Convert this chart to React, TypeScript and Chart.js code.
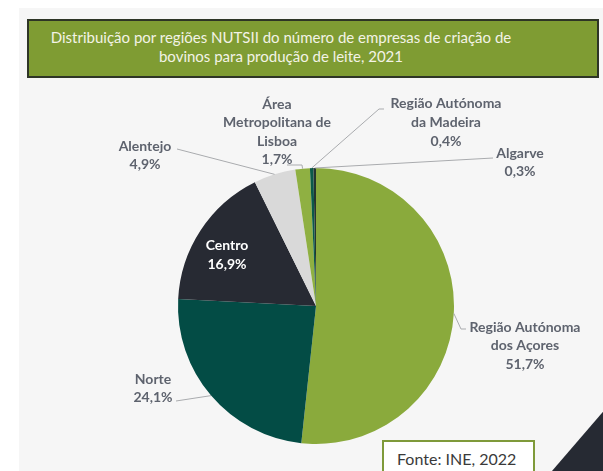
import React, { useEffect, useRef } from "react";
import { Chart, registerables } from "chart.js";

Chart.register(...registerables);

const categories = [
  "Região Autónoma dos Açores",
  "Norte",
  "Centro",
  "Alentejo",
  "Área Metropolitana de Lisboa",
  "Região Autónoma da Madeira",
  "Algarve",
];
const values = [51.7, 24.1, 16.9, 4.9, 1.7, 0.4, 0.3];
const labelLines = [
  ["Região Autónoma", "dos Açores"],
  ["Norte"],
  ["Centro"],
  ["Alentejo"],
  ["Área", "Metropolitana de", "Lisboa"],
  ["Região Autónoma", "da Madeira"],
  ["Algarve"],
];
const titleLines = [
  "Distribuição por regiões NUTSII do número de empresas de criação de",
  "bovinos para produção de leite, 2021",
];
const sourceText = "Fonte: INE, 2022";

const sliceColors = ["#8aaa3c", "#034c45", "#272a33", "#d9d9d9", "#8fb042", "#0b5a49", "#243530"];

const FONT = "Lato, 'Open Sans', sans-serif";
const GRAY = "#5e636e";

// label placement (pixels) and leader-line bends
const labelLayout: { cx: number; y0: number; lh: number; color?: string; path: number[][] | null }[] = [
  { cx: 525, y0: 327, lh: 18.5, path: [[461, 329], [466, 329]] },
  { cx: 153, y0: 379, lh: 18.5, path: [[176, 401]] },
  { cx: 227, y0: 245, lh: 19, color: "#ffffff", path: null },
  { cx: 145, y0: 146, lh: 18, path: [[177, 149]] },
  { cx: 277, y0: 104, lh: 18.5, path: [[302, 165], [287, 165]] },
  { cx: 446, y0: 103, lh: 19, path: [[379, 109], [384, 109]] },
  { cx: 520, y0: 153, lh: 18, path: [[493, 158]] },
];

const fmt = (v: number) => v.toFixed(1).replace(".", ",") + "%";

const labelPlugin = {
  id: "pieLabels",
  afterDatasetsDraw(chart: any) {
    const ctx = chart.ctx as CanvasRenderingContext2D;
    const meta = chart.getDatasetMeta(0);
    ctx.save();
    meta.data.forEach((arc: any, i: number) => {
      const p = arc.getProps(["x", "y", "startAngle", "endAngle", "outerRadius"], true);
      const mid = (p.startAngle + p.endAngle) / 2;
      const ax = p.x + Math.cos(mid) * p.outerRadius;
      const ay = p.y + Math.sin(mid) * p.outerRadius;
      const lay = labelLayout[i];
      if (lay.path) {
        ctx.beginPath();
        ctx.strokeStyle = "#a9abae";
        ctx.lineWidth = 1;
        ctx.moveTo(ax, ay);
        lay.path.forEach((pt) => ctx.lineTo(pt[0], pt[1]));
        ctx.stroke();
      }
      const lines = [...labelLines[i], fmt(values[i])];
      ctx.fillStyle = lay.color || GRAY;
      ctx.font = `bold 14px ${FONT}`;
      ctx.textAlign = "center";
      ctx.textBaseline = "middle";
      lines.forEach((t, k) => ctx.fillText(t, lay.cx, lay.y0 + k * lay.lh));
    });
    ctx.restore();
  },
};

export default function App() {
  const ref = useRef<HTMLCanvasElement>(null);
  useEffect(() => {
    if (!ref.current) return;
    const chart = new Chart(ref.current, {
      type: "pie",
      data: {
        labels: categories,
        datasets: [
          {
            data: values,
            backgroundColor: sliceColors,
            borderWidth: 0,
          },
        ],
      },
      options: {
        responsive: false,
        animation: false,
        layout: { padding: { left: 178, right: 149, top: 168, bottom: 27 } },
        plugins: {
          legend: { display: false },
          tooltip: { enabled: false },
          title: { display: false },
        },
      },
      plugins: [labelPlugin],
    });
    return () => chart.destroy();
  }, []);

  return (
    <div
      style={{
        position: "fixed",
        left: 0,
        top: 0,
        width: 603,
        height: 471,
        background: "#ffffff",
        overflow: "hidden",
        fontFamily: FONT,
      }}
    >
      <div style={{ position: "absolute", left: 19, top: 8, right: 0, bottom: 0, background: "#f6f6f6" }} />
      <div
        style={{
          position: "absolute",
          left: 27,
          top: 19,
          width: 572,
          height: 59,
          boxSizing: "border-box",
          background: "#7f9c33",
          border: "2px solid #2e3526",
        }}
      >
        {titleLines.map((t, i) => (
          <div
            key={i}
            style={{
              position: "absolute",
              left: 0,
              width: 504,
              top: 7 + i * 19,
              textAlign: "center",
              color: "#f3f3e6",
              fontSize: 15,
              lineHeight: "19px",
              whiteSpace: "nowrap",
            }}
          >
            {t}
          </div>
        ))}
      </div>
      <canvas ref={ref} width={603} height={471} style={{ position: "absolute", left: 0, top: 0 }} />
      <div
        style={{
          position: "absolute",
          left: 382,
          top: 440,
          width: 153,
          height: 40,
          boxSizing: "border-box",
          background: "#ffffff",
          border: "2px solid #7f9a3a",
        }}
      >
        <div
          style={{
            position: "absolute",
            left: 13,
            top: 7,
            fontSize: 16,
            lineHeight: "20px",
            color: "#3a3a3a",
            whiteSpace: "nowrap",
          }}
        >
          {sourceText}
        </div>
      </div>
      <div
        style={{
          position: "absolute",
          left: 540,
          top: 410,
          width: 63,
          height: 61,
          background: "#262a33",
          clipPath: "polygon(100% 3%, 100% 100%, 19% 100%)",
        }}
      />
    </div>
  );
}
